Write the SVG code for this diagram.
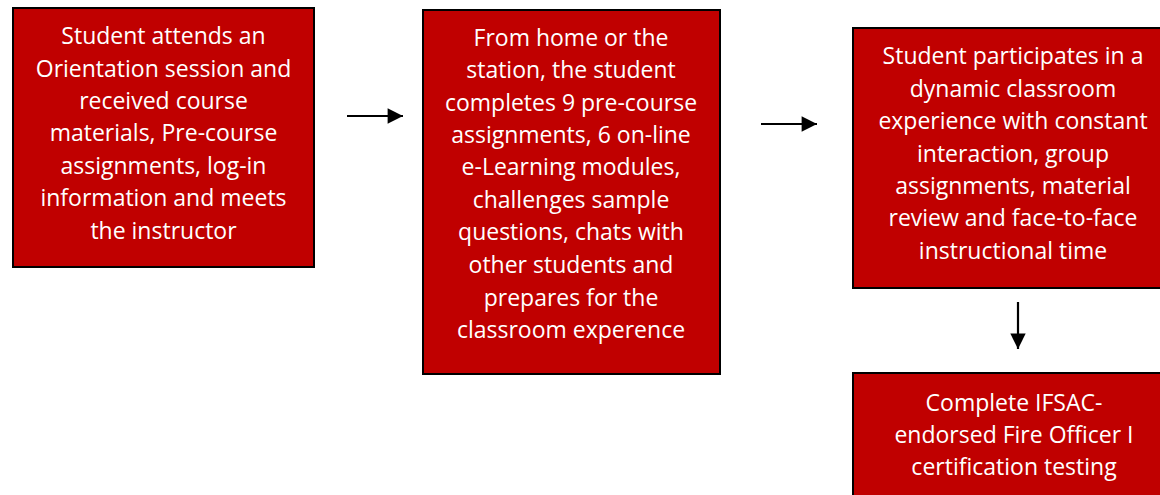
<svg xmlns="http://www.w3.org/2000/svg" width="1160" height="495" viewBox="0 0 1160 495">
<style>
.box{fill:#C00000;stroke:#000;stroke-width:2}
.t{font-family:"Open Sans","Liberation Sans",sans-serif;font-size:23px;fill:#fff;text-anchor:middle}
.c{stroke:#000;stroke-width:2.2;fill:none}
</style>
<defs>
<marker id="ah" viewBox="0 0 10 10" refX="10" refY="5" markerWidth="7.5" markerHeight="7" orient="auto" markerUnits="strokeWidth">
<path d="M0,0 L10,5 L0,10 z" fill="#000"/>
</marker>
</defs>
<rect width="1160" height="495" fill="#fff"/>
<g id="n1">
<rect class="box" x="13" y="8" width="301" height="259"/>
<text class="t"><tspan x="163.5" y="44">Student attends an</tspan><tspan x="163.5" y="77">Orientation session and</tspan><tspan x="163.5" y="109">received course</tspan><tspan x="163.5" y="141">materials, Pre-course</tspan><tspan x="163.5" y="174">assignments, log-in</tspan><tspan x="163.5" y="206">information and meets</tspan><tspan x="163.5" y="239">the instructor</tspan></text>
</g>
<g id="n2">
<rect class="box" x="423" y="10" width="297" height="364"/>
<text class="t"><tspan x="571" y="46">From home or the</tspan><tspan x="571" y="78">station, the student</tspan><tspan x="571" y="111">completes 9 pre-course</tspan><tspan x="571" y="143">assignments, 6 on-line</tspan><tspan x="571" y="175">e-Learning modules,</tspan><tspan x="571" y="208">challenges sample</tspan><tspan x="571" y="240">questions, chats with</tspan><tspan x="571" y="273">other students and</tspan><tspan x="571" y="306">prepares for the</tspan><tspan x="571" y="338">classroom experence</tspan></text>
</g>
<g id="n3">
<rect class="box" x="853" y="28" width="320" height="260"/>
<text class="t"><tspan x="1013" y="64">Student participates in a</tspan><tspan x="1013" y="97">dynamic classroom</tspan><tspan x="1013" y="129">experience with constant</tspan><tspan x="1013" y="162">interaction, group</tspan><tspan x="1013" y="194">assignments, material</tspan><tspan x="1013" y="226">review and face-to-face</tspan><tspan x="1013" y="259">instructional time</tspan></text>
</g>
<g id="n4">
<rect class="box" x="853" y="373" width="320" height="140"/>
<text class="t"><tspan x="1014" y="411">Complete IFSAC-</tspan><tspan x="1014" y="443">endorsed Fire Officer I</tspan><tspan x="1014" y="475">certification testing</tspan></text>
</g>
<g id="connectors">
<line class="c" x1="347" y1="116" x2="403" y2="116" marker-end="url(#ah)"/>
<line class="c" x1="761" y1="124" x2="817" y2="124" marker-end="url(#ah)"/>
<line class="c" x1="1018" y1="302" x2="1018" y2="349" marker-end="url(#ah)"/>
</g>
</svg>
